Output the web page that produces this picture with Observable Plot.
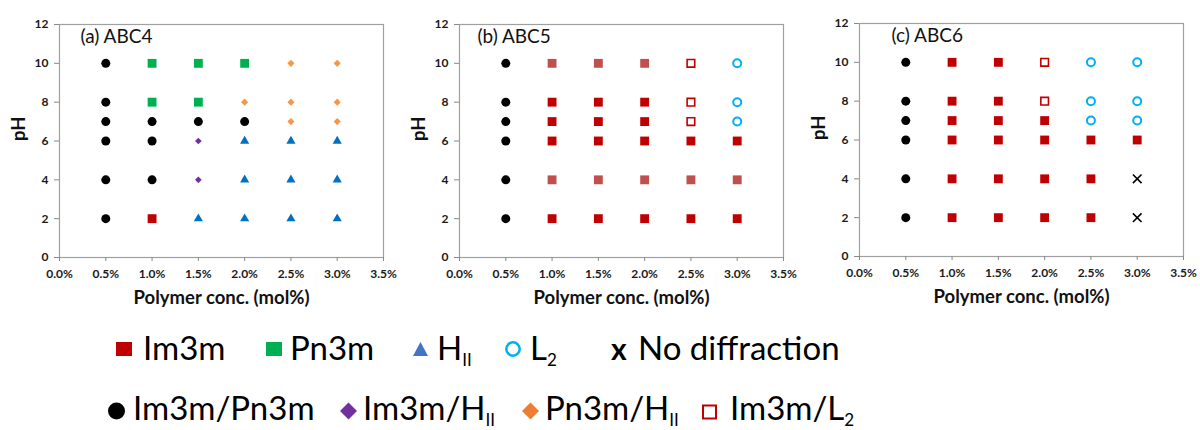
<!DOCTYPE html>
<html>
<head>
<meta charset="utf-8">
<script src="https://cdn.jsdelivr.net/npm/d3@7"></script>
<script src="https://cdn.jsdelivr.net/npm/@observablehq/plot@0.6"></script>
<style>
  html, body { margin: 0; padding: 0; background: #fff; }
  #wrap { position: relative; width: 1200px; height: 430px; overflow: hidden; font-family: Lato, "Open Sans", sans-serif; }
  #panels { position: absolute; left: 0; top: 0; display: flex; }
  #legend { position: absolute; left: 0; top: 310px; }
</style>
</head>
<body>
<div id="wrap">
  <div id="panels"></div>
  <svg id="legend" width="1200" height="120"></svg>
</div>
<script>
// ---------- data ----------
const concentrations = [0.5, 1.0, 1.5, 2.0, 2.5, 3.0];   // mol%
const pHLevels = [10, 8, 7, 6, 4, 2];
// phase codes: IP=Im3m/Pn3m, I=Im3m, Iw=Im3m (faded), P=Pn3m, H=HII, IH=Im3m/HII,
// PH=Pn3m/HII, IL=Im3m/L2, L=L2, X=No diffraction
const phasesABC4 = [
  ["IP", "P",  "P",  "P",  "PH", "PH"],
  ["IP", "P",  "P",  "PH", "PH", "PH"],
  ["IP", "IP", "IP", "IP", "PH", "PH"],
  ["IP", "IP", "IH", "H",  "H",  "H"],
  ["IP", "IP", "IH", "H",  "H",  "H"],
  ["IP", "I",  "H",  "H",  "H",  "H"]
];
const phasesABC5 = [
  ["IP", "Iw", "Iw", "Iw", "IL", "L"],
  ["IP", "I",  "I",  "I",  "IL", "L"],
  ["IP", "I",  "I",  "I",  "IL", "L"],
  ["IP", "I",  "I",  "I",  "I",  "I"],
  ["IP", "Iw", "Iw", "Iw", "Iw", "Iw"],
  ["IP", "I",  "I",  "I",  "I",  "I"]
];
const phasesABC6 = [
  ["IP", "I", "I", "IL", "L", "L"],
  ["IP", "I", "I", "IL", "L", "L"],
  ["IP", "I", "I", "I",  "L", "L"],
  ["IP", "I", "I", "I",  "I", "I"],
  ["IP", "I", "I", "I",  "I", "X"],
  ["IP", "I", "I", "I",  "I", "X"]
];
const panelTitles = ["(a) ABC4", "(b) ABC5", "(c) ABC6"];
const xTicks = [0, 0.5, 1.0, 1.5, 2.0, 2.5, 3.0, 3.5];
const yTicks = [0, 2, 4, 6, 8, 10, 12];
const xLabel = "Polymer conc. (mol%)";
const yLabel = "pH";

// ---------- styles ----------
const phaseStyle = {
  IP: {symbol: "circle",   r: 4.5, fill: "#000000"},
  I:  {symbol: "square",   r: 5,   fill: "#C00000"},
  Iw: {symbol: "square",   r: 5,   fill: "#C0504D"},
  P:  {symbol: "square",   r: 5,   fill: "#00B050"},
  H:  {symbol: "triangle", r: 3.4, fill: "#0070C0"},
  IH: {symbol: "diamond2", r: 3,   fill: "#7030A0"},
  PH: {symbol: "diamond2", r: 3.2, fill: "#F79646"},
  IL: {symbol: "square",   r: 4.3, fill: "#ffffff", stroke: "#C00000", strokeWidth: 1.6},
  L:  {symbol: "circle",   r: 4,   fill: "#ffffff", stroke: "#00B0F0", strokeWidth: 2},
  X:  {symbol: "times",    r: 4,   fill: "none",    stroke: "#000000", strokeWidth: 1.6}
};

const panels = [
  {title: panelTitles[0], grid: phasesABC4, titleDx: 21, mt: 24, mb: 53},
  {title: panelTitles[1], grid: phasesABC5, titleDx: 18, mt: 24, mb: 53},
  {title: panelTitles[2], grid: phasesABC6, titleDx: 32, mt: 23, mb: 54}
];

const container = document.getElementById("panels");
for (const p of panels) {
  const rows = [];
  p.grid.forEach((row, i) => row.forEach((code, j) => rows.push({conc: concentrations[j], pH: pHLevels[i], phase: code})));
  const dotMarks = Object.entries(phaseStyle).map(([code, s]) =>
    Plot.dot(rows.filter(d => d.phase === code), {x: "conc", y: "pH", ...s})
  );
  const chart = Plot.plot({
    width: 400,
    height: 310,
    marginLeft: 59,
    marginRight: 17,
    marginTop: p.mt,
    marginBottom: p.mb,
    style: {fontFamily: "Lato, 'Open Sans', sans-serif", fontSize: "12px", fontWeight: "bold", color: "#222", background: "#fff"},
    x: {domain: [0, 3.5], label: null},
    y: {domain: [0, 12], label: null},
    marks: [
      Plot.frame({stroke: "#a0a0a0", strokeWidth: 1.2}),
      Plot.axisX({ticks: xTicks, tickFormat: d => d.toFixed(1) + "%", tickSize: 4, tickPadding: 8, stroke: "#888", fill: "#1a1a1a", label: null}),
      Plot.axisY({ticks: yTicks, tickSize: 5, tickPadding: 6, stroke: "#888", fill: "#1a1a1a", label: null}),
      ...dotMarks,
      Plot.text([p.title], {frameAnchor: "top-left", dx: p.titleDx, dy: 5, textAnchor: "start", lineAnchor: "top", fontSize: 19, fontWeight: "normal", fill: "#111"}),
      Plot.text([xLabel], {frameAnchor: "bottom", dy: 41, lineAnchor: "middle", fontSize: 18.5, fontWeight: "bold", fill: "#111"}),
      Plot.text([yLabel], {frameAnchor: "left", dx: -40, rotate: -90, lineAnchor: "middle", fontSize: 18.5, fontWeight: "bold", fill: "#111"})
    ]
  });
  container.appendChild(chart);
}

// ---------- legend ----------
const legendItems = [
  {shape: "rect", fill: "#C00000", x: 116, cy: 349, w: 16, h: 14, label: "Im3m", tx: 143, base: 360},
  {shape: "rect", fill: "#00B050", x: 266, cy: 349, w: 16, h: 14, label: "Pn3m", tx: 290, base: 360},
  {shape: "tri", fill: "#4472C4", x: 413, cy: 349, w: 15, label: "H", sub: "II", tx: 437, base: 360},
  {shape: "ring", stroke: "#00B0F0", x: 505, cy: 349, w: 16, label: "L", sub: "2", tx: 530, base: 360},
  {shape: "x", x: 611, label: "No diffraction", tx: 638, base: 360},
  {shape: "dot", fill: "#000", x: 108, cy: 411, w: 17, label: "Im3m/Pn3m", tx: 133, base: 420},
  {shape: "dia", fill: "#7030A0", x: 340, cy: 411, w: 17, label: "Im3m/H", sub: "II", tx: 363, base: 420},
  {shape: "dia", fill: "#ED7D31", x: 522, cy: 411, w: 17, label: "Pn3m/H", sub: "II", tx: 545, base: 420},
  {shape: "box", stroke: "#C00000", x: 702, cy: 412, w: 15, label: "Im3m/L", sub: "2", tx: 730, base: 420}
];
const lg = d3.select("#legend");
const off = 310;
for (const it of legendItems) {
  const cy = (it.cy || 0) - off;
  if (it.shape === "rect") {
    lg.append("rect").attr("x", it.x).attr("y", cy - it.h / 2).attr("width", it.w).attr("height", it.h).attr("fill", it.fill);
  } else if (it.shape === "tri") {
    lg.append("path").attr("d", `M${it.x},${cy + 7}L${it.x + it.w / 2},${cy - 7}L${it.x + it.w},${cy + 7}Z`).attr("fill", it.fill);
  } else if (it.shape === "ring") {
    lg.append("circle").attr("cx", it.x + it.w / 2).attr("cy", cy).attr("r", it.w / 2 - 1.3).attr("fill", "none").attr("stroke", it.stroke).attr("stroke-width", 2.5);
  } else if (it.shape === "dot") {
    lg.append("circle").attr("cx", it.x + it.w / 2).attr("cy", cy).attr("r", it.w / 2).attr("fill", it.fill);
  } else if (it.shape === "dia") {
    const c = it.x + it.w / 2, h = it.w / 2;
    lg.append("path").attr("d", `M${c},${cy - h}L${c + h},${cy}L${c},${cy + h}L${c - h},${cy}Z`).attr("fill", it.fill);
  } else if (it.shape === "box") {
    lg.append("rect").attr("x", it.x + 1).attr("y", cy - it.w / 2 + 1).attr("width", it.w - 2).attr("height", it.w - 2).attr("fill", "none").attr("stroke", it.stroke).attr("stroke-width", 2);
  } else if (it.shape === "x") {
    lg.append("text").attr("x", it.x).attr("y", it.base - off).attr("font-size", 30).attr("font-weight", "bold").attr("font-family", "Lato, sans-serif").attr("fill", "#000").text("x");
  }
  const t = lg.append("text").attr("x", it.tx).attr("y", it.base - off)
    .attr("font-size", 33).attr("font-family", "Lato, 'Open Sans', sans-serif").attr("fill", "#000").text(it.label);
  if (it.sub) t.append("tspan").attr("dy", 6).attr("font-size", 17).text(it.sub);
}
</script>
</body>
</html>
